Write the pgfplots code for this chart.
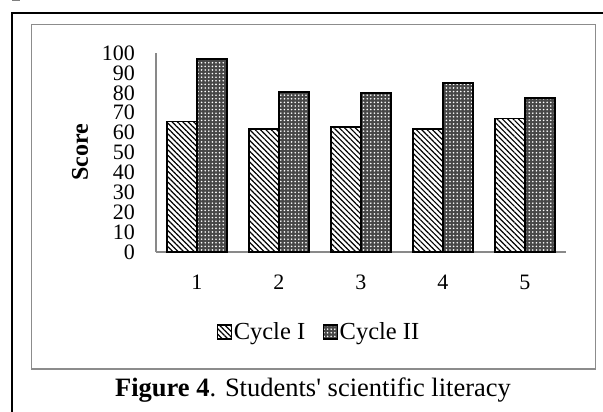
\documentclass[border=0pt]{standalone}
\usepackage{fontspec}
\setmainfont{Liberation Serif}[Ligatures=TeXOff]
\usepackage{pgfplots}
\pgfplotsset{compat=1.18}
\usetikzlibrary{patterns.meta}
\definecolor{axgray}{RGB}{137,137,137}
\definecolor{boxgray}{RGB}{140,140,140}

\pgfplotstableread{
x c1 c2
1 65.5 97.0
2 61.7 80.3
3 62.7 80.0
4 61.7 84.8
5 67.2 77.5
}\scores

\begin{document}
\begin{tikzpicture}
\path[use as bounding box] (0pt,0pt) rectangle (603pt,-412pt);
\fill[white] (0pt,0pt) rectangle (603pt,-412pt);
\fill[gray] (12pt,0pt) rectangle (20pt,-1.5pt);
\draw[black, line width=2pt] (11.7pt,-430pt) -- (11.7pt,-13.3pt) -- (620pt,-13.3pt);
\draw[boxgray, line width=1.5pt] (31.7pt,-24.5pt) rectangle (595.7pt,-369pt);
\begin{axis}[
  at={(156pt,-252pt)}, anchor=south west,
  scale only axis, width=410pt, height=199pt,
  xmin=0.5, xmax=5.5, ymin=0, ymax=100,
  axis x line*=bottom, axis y line*=left,
  axis line style={draw=axgray, line width=1.5pt},
  ytick={0,10,...,100}, xtick={1,2,3,4,5},
  major tick length=0pt,
  /pgf/number format/assume math mode=true,
  tick label style={font=\fontsize{22}{22}\selectfont, inner sep=0pt},
  yticklabel style={anchor=east, xshift=-21pt},
  xticklabel style={anchor=north, yshift=-23pt},
  ylabel={\textbf{Score}},
  every axis y label/.style={at={(axis description cs:-0.1854,0.5)}, rotate=90, anchor=center, font=\fontsize{24}{24}\selectfont},
  ybar=0pt, bar width=30pt,
  legend columns=2,
  legend style={at={(axis description cs:0.397,-0.402)}, anchor=center, draw=none, fill=none,
    font=\fontsize{24.5}{24.5}\selectfont,
    /tikz/every even column/.append style={column sep=16pt},
    /tikz/every odd column/.append style={column sep=0pt},
    nodes={inner sep=1.5pt}},
  legend image code/.code={\draw[#1, draw=none] (0pt,-7pt) rectangle (14pt,7pt);},
  clip=false,
]
\addplot[draw=black, line width=1.5pt, fill=white,
  postaction={pattern={Lines[angle=-45,distance=3.8pt,line width=1.2pt]}, pattern color=black}]
  table[x=x, y=c1] {\scores};
\addplot[draw=black, line width=1.5pt, fill=black!72,
  postaction={pattern={Dots[distance=3.6pt,radius=0.9pt]}, pattern color=white}]
  table[x=x, y=c2] {\scores};
\legend{Cycle I, Cycle II}
\end{axis}
\node[anchor=base, inner sep=0pt, font=\fontsize{26.5}{26.5}\selectfont] at (313pt,-396pt)
  {\textbf{Figure 4}. Students' scientific literacy};
\end{tikzpicture}
\end{document}
